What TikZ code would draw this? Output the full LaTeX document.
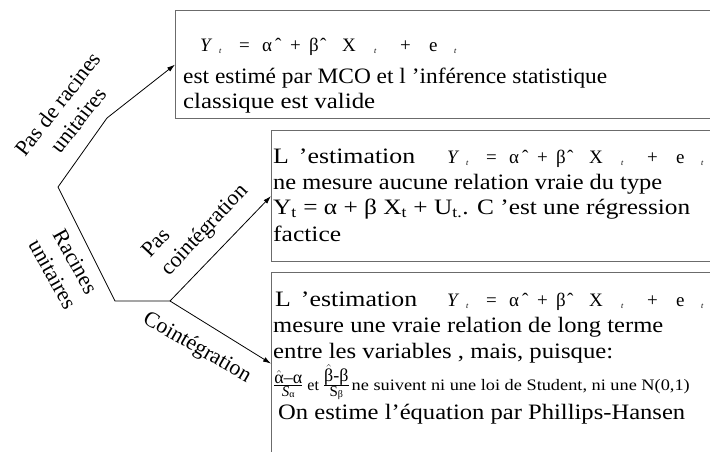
\documentclass[tikz,border=0pt]{standalone}
\usepackage{graphicx}
\usepackage{fontspec}
\setmainfont{Liberation Serif}
\usetikzlibrary{arrows.meta}
\definecolor{boxgray}{gray}{0.42}
\newcommand\putat[2]{\rlap{\hspace*{#1pt}#2}}
\newcommand\subt{\raisebox{-2pt}{\fontsize{8}{8}\selectfont\itshape t}}
\newcommand\eqline{%
  \putat{0}{\textit{Y}}\putat{19}{\subt}\putat{39}{=}\putat{62}{α}\putat{75}{ˆ}%
  \putat{90}{+}\putat{109}{β}\putat{120}{ˆ}\putat{142}{X}\putat{174}{\subt}%
  \putat{200}{+}\putat{229}{e}\putat{254}{\subt}\hspace*{262pt}}
\newcommand\fracA{\ensuremath{\frac{\mbox{\fontsize{18}{18}\selectfont$\hat{\mbox{α}}$–α}}{\mbox{\fontsize{15}{15}\selectfont\textit{S}\raisebox{-1pt}{\fontsize{10}{10}\selectfont α}}}}}
\newcommand\fracB{\ensuremath{\frac{\mbox{\fontsize{18}{18}\selectfont$\hat{\mbox{β}}$-β}}{\mbox{\fontsize{15}{15}\selectfont S\raisebox{-1pt}{\fontsize{10}{10}\selectfont β}}}}}
\newcommand\wline[2]{\resizebox{#1pt}{\height}{#2}}
\begin{document}
\begin{tikzpicture}[x=1pt,y=-1pt,
  box/.style={draw=boxgray, line width=1.2pt, inner sep=0pt, anchor=north west},
  conn/.style={line width=0.8pt},
  arr/.style={conn,-{Latex[length=8pt,width=5pt]}},
  txt/.style={anchor=base west, inner sep=0pt, font=\fontsize{22}{26}\selectfont},
  eqn/.style={anchor=base west, inner sep=0pt, font=\fontsize{19}{22}\selectfont},
  small/.style={anchor=base west, inner sep=0pt, font=\fontsize{16}{18}\selectfont},
  lbl/.style={inner sep=0pt, font=\fontsize{22}{26}\selectfont}]
\useasboundingbox (0,0) rectangle (710,452);
% boxes
\node[box, minimum width=545pt, minimum height=108pt] (b1) at (175,10) {};
\node[box, minimum width=450pt, minimum height=131pt] (b2) at (271,130) {};
\node[box, minimum width=450pt, minimum height=182pt] (b3) at (271,272) {};
% box 1 text
\node[eqn] (e1) at (200,52) {\eqline};
\node[txt] (t1b) at (183,84) {\wline{424}{est estimé par MCO et l ’inférence statistique}};
\node[txt] (t1c) at (183,109) {\wline{192}{classique est valide}};
% box 2 text
\node[txt] (t2a) at (273,163) {\wline{142}{L\hspace{3pt} ’estimation}};
\node[eqn] (e2) at (447,163) {\eqline};
\node[txt] (t2b) at (273,189) {\wline{389}{ne mesure aucune relation vraie du type}};
\node[txt] (t2c) at (273,214) {\wline{417}{Y\textsubscript{t} = α + β X\textsubscript{t} + U\textsubscript{t.}. C ’est une régression}};
\node[txt] (t2d) at (273,241) {\wline{68}{factice}};
% box 3 text
\node[txt] (t3a) at (275,306) {\wline{142}{L\hspace{3pt} ’estimation}};
\node[eqn] (e3) at (447,306) {\eqline};
\node[txt] (t3b) at (273,332) {\wline{390}{mesure une vraie relation de long terme}};
\node[txt] (t3c) at (273,358) {\wline{340}{entre les variables , mais, puisque:}};
\node[small] (t3d) at (273,390) {\fracA\hspace{4pt}et\hspace{4pt}\fracB\hspace{2pt}\wline{338}{ne suivent ni une loi de Student, ni une N(0,1)}};
\node[txt] (t3e) at (278,419) {\wline{407}{On estime l’équation par Phillips-Hansen}};
% connectors
\coordinate (J) at (58,187);
\coordinate (B) at (107,118);
\coordinate (C) at (115,301);
\coordinate (D) at (170,301);
\draw[conn] (J) -- (B);
\draw[arr] (B) -- (b1.west);
\draw[conn] (J) -- (C) -- (D);
\draw[arr] (D) -- (b2.west);
\draw[arr] (D) -- (b3.west);
% labels
\node[lbl, align=center, rotate=52] (l1) at (68,112) {Pas de racines\\unitaires};
\node[lbl, align=center, rotate=-61] (l2) at (64,268) {Racines\\unitaires};
\node[lbl, align=left, rotate=47] (l3) at (196,222) {Pas\\cointégration};
\node[lbl, rotate=-30] (l4) at (197,348) {Cointégration};
\end{tikzpicture}
\end{document}
